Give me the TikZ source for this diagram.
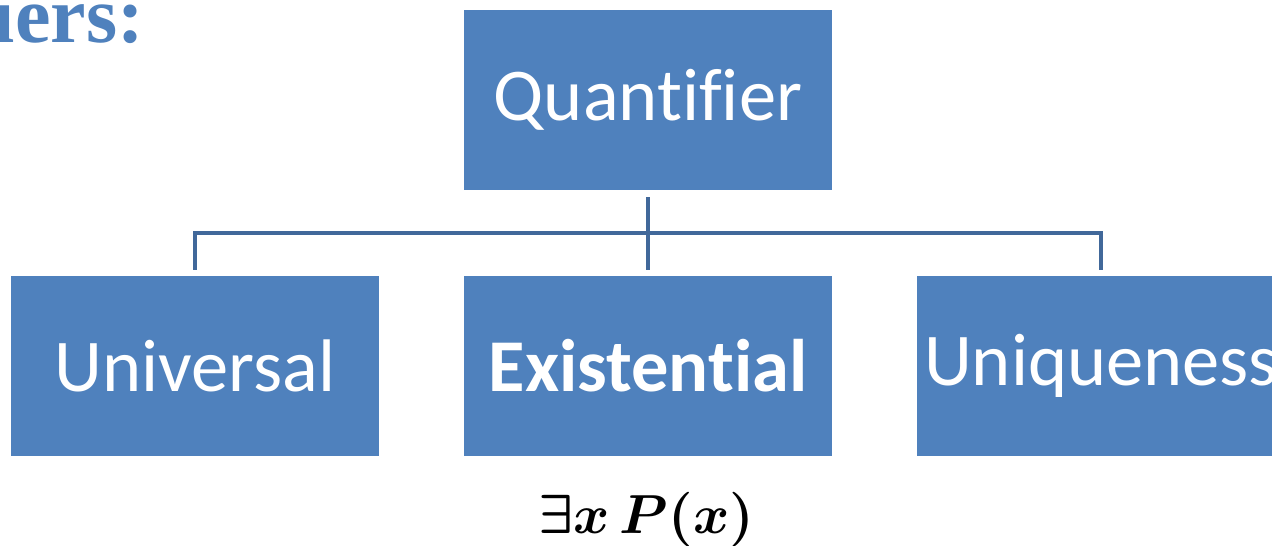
\documentclass[tikz,border=0pt]{standalone}
\usepackage{fontspec}
\setmainfont{Carlito}[Ligatures=NoCommon]
\newfontfamily\titlefont{Liberation Serif}
\definecolor{boxblue}{HTML}{4F81BD}
\definecolor{lineblue}{HTML}{41689A}
\begin{document}
\begin{tikzpicture}[x=1pt,y=-1pt,
  box/.style={fill=boxblue, draw=none, minimum width=368pt, minimum height=180pt,
    inner sep=0pt, text=white, font=\fontsize{74.5}{80}\selectfont},
  conn/.style={draw=lineblue, line width=4pt}]
\useasboundingbox (0,0) rectangle (1272,546);
\node[box] (top) at (648,100) {Quantifier};
\node[box] (uni) at (195,366) {Universal};
\node[box] (mid) at (648,366) {\bfseries Existential};
\node[box] (uq) at (1101,366) {Uniqueness};
\coordinate (j) at (648,233);
\draw[conn, shorten <=7pt, shorten >=6pt] (top.south) -- (mid.north);
\draw[conn, shorten <=6pt, shorten >=6pt] (uni.north) |- (j) -| (uq.north);
\node[anchor=base east, inner sep=0pt, text=boxblue,
  font=\titlefont\bfseries\fontsize{80}{90}\selectfont] (title) at (144,42) {Quantifiers:};
\node[anchor=base, inner sep=0pt] (formula) at (646,533)
  {\scalebox{5.5}{\boldmath$\exists x\,P(x)$}};
\end{tikzpicture}
\end{document}
